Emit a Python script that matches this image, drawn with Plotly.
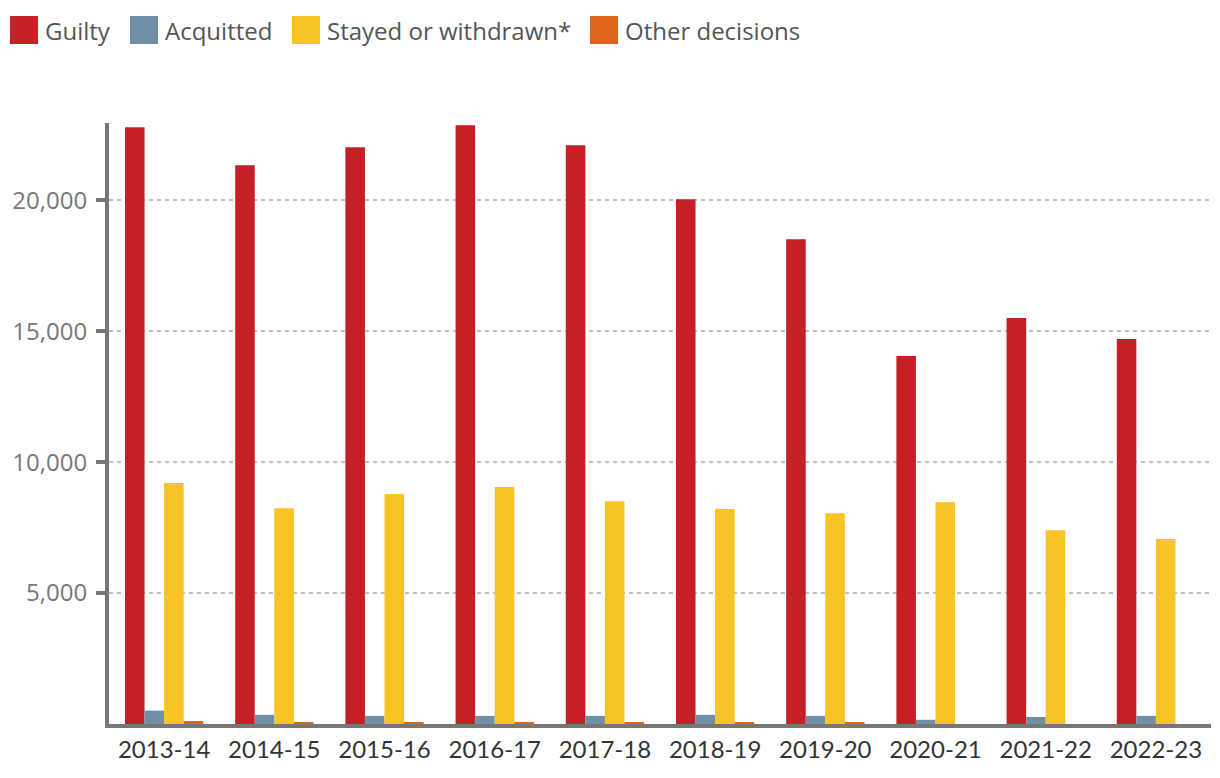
import plotly.graph_objects as go

years = ["2013-14", "2014-15", "2015-16", "2016-17", "2017-18",
         "2018-19", "2019-20", "2020-21", "2021-22", "2022-23"]
guilty = [22790, 21340, 22020, 22860, 22100, 20040, 18510, 14050, 15500, 14700]
acquitted = [510, 350, 310, 310, 310, 350, 310, 160, 270, 310]
stayed = [9200, 8240, 8780, 9050, 8510, 8210, 8050, 8470, 7400, 7060]
other = [115, 75, 75, 75, 75, 75, 40, 0, 0, 0]

series_names = ["Guilty", "Acquitted", "Stayed or withdrawn*", "Other decisions"]
series_values = [guilty, acquitted, stayed, other]
series_colors = ["#c42026", "#6f90a6", "#f7c325", "#e0661a"]

# page layout (pixels); the html body adds an 8px margin
W, H = 1212, 770
L, R, T, B = 101, 9, 115, 54
PW, PH = W - L - R, H - T - B


def px_x(x):
    return (x - 8 - L) / PW


def px_y(y):
    return (H - B + 8 - y) / PH


fig = go.Figure()
for name, vals, col in zip(series_names, series_values, series_colors):
    fig.add_trace(go.Bar(x=years, y=vals, name=name, marker_color=col,
                         marker_line_width=0, showlegend=False))

# custom legend (large square swatches)
legend_x = [10, 130, 292, 590]
sq = 28
for name, col, lx in zip(series_names, series_colors, legend_x):
    fig.add_shape(type="rect", xref="paper", yref="paper",
                  x0=px_x(lx), x1=px_x(lx + sq), y0=px_y(44), y1=px_y(16),
                  fillcolor=col, line_width=0)
    fig.add_annotation(xref="paper", yref="paper", x=px_x(lx + sq + 5),
                       y=px_y(31), xanchor="left", yanchor="middle",
                       text=name, showarrow=False,
                       font=dict(size=24, color="#555",
                                 family="Open Sans, sans-serif"))

fig.update_layout(
    width=W, height=H,
    margin=dict(l=L, r=R, t=T, b=B, autoexpand=False),
    barmode="group", bargap=0.29, bargroupgap=0,
    plot_bgcolor="white", paper_bgcolor="white",
    font=dict(family="Lato, Open Sans, sans-serif", color="#555"),
    showlegend=False,
)
fig.update_xaxes(
    showline=True, linecolor="#777", linewidth=4,
    ticks="", tickfont=dict(size=24, color="#333", family="Lato, sans-serif"),
    ticklabelstandoff=1,
    showgrid=False, zeroline=False, automargin=False,
)
fig.update_yaxes(
    range=[0, 22950], tickvals=[5000, 10000, 15000, 20000],
    ticktext=["5,000", "10,000", "15,000", "20,000"],
    showline=True, linecolor="#777", linewidth=4,
    ticks="outside", ticklen=9, tickwidth=4, tickcolor="#777",
    tickfont=dict(size=24, color="#777", family="Open Sans, sans-serif"),
    ticklabelstandoff=4,
    showgrid=True, gridcolor="#b9c3c7", gridwidth=2, griddash="4px,4px",
    zeroline=False, automargin=False,
)

fig.write_html("out.html")
